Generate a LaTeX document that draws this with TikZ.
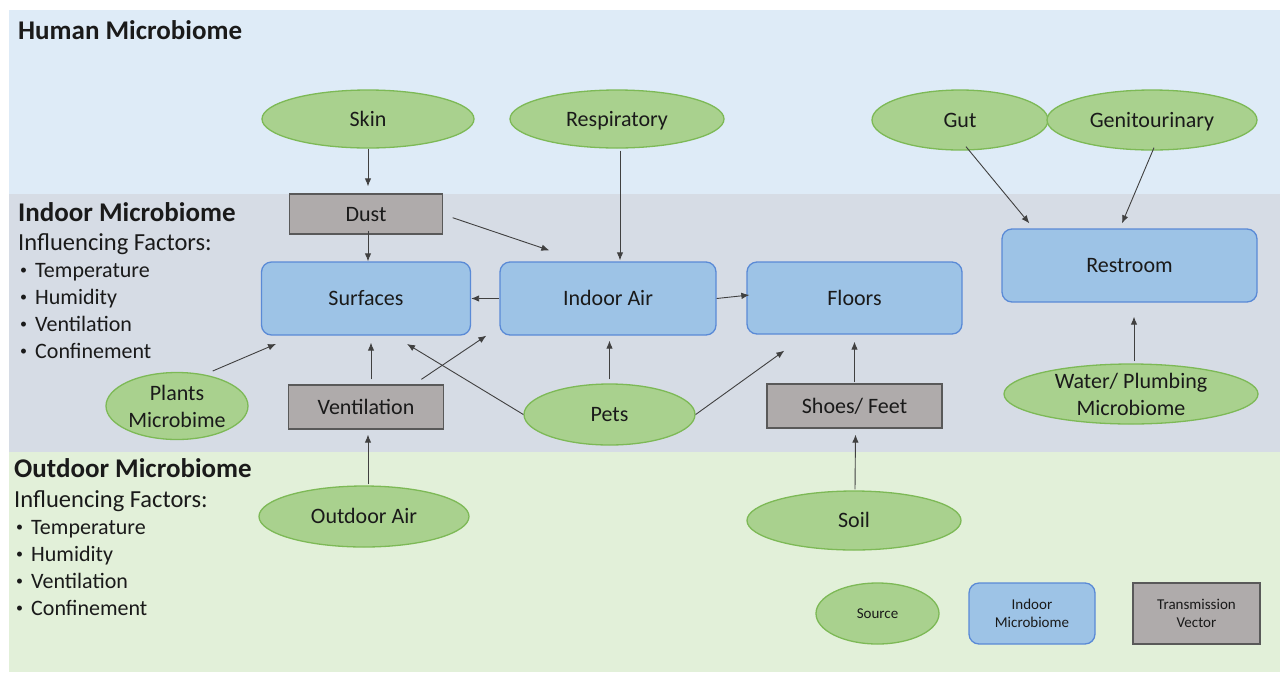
\documentclass[tikz,border=0pt]{standalone}
\usepackage{fontspec}
\setmainfont{Carlito}
\usetikzlibrary{shapes.geometric,arrows.meta,calc}
\definecolor{humanbg}{HTML}{DEEBF7}
\definecolor{indoorbg}{HTML}{D6DCE5}
\definecolor{outdoorbg}{HTML}{E2F0D9}
\definecolor{srcfill}{HTML}{A9D18E}
\definecolor{srcdraw}{HTML}{7DB956}
\definecolor{indfill}{HTML}{9DC3E6}
\definecolor{inddraw}{HTML}{5A8AD6}
\definecolor{vecfill}{HTML}{AFABAB}
\definecolor{vecdraw}{HTML}{595959}
\definecolor{arrowc}{HTML}{404040}
\definecolor{txt}{HTML}{1A1A1A}
\newcommand\fsnode{\fontsize{22}{27}\selectfont}
\newcommand\fshead{\fontsize{27}{32}\selectfont\bfseries}
\newcommand\fsinf{\fontsize{24.5}{29}\selectfont}
\newcommand\fsleg{\fontsize{15}{18}\selectfont}
\newcommand\bul{\makebox[16pt][l]{\hspace{1pt}{\fontsize{14}{14}\selectfont\raisebox{2.5pt}{•}}}}
\begin{document}
\begin{tikzpicture}[x=1pt,y=-1pt,
  src/.style={ellipse,draw=srcdraw,fill=srcfill,line width=1.3pt,inner sep=0pt,text=txt,align=center,font=\fsnode},
  ind/.style={rectangle,rounded corners=10pt,draw=inddraw,fill=indfill,line width=1.3pt,inner sep=0pt,text=txt,align=center,font=\fsnode},
  vec/.style={rectangle,draw=vecdraw,fill=vecfill,line width=1.3pt,inner sep=0pt,text=txt,align=center,font=\fsnode},
  one/.style={text height=16pt,text depth=2pt},
  arr/.style={draw=arrowc,line width=0.9pt,-{Latex[length=8pt,width=6.5pt]}},
  lbl/.style={anchor=base west,inner sep=0pt,text=txt}]
\useasboundingbox (0,0) rectangle (1283,673);
% bands
\fill[white] (0,0) rectangle (1283,673);
\fill[humanbg] (9,10) rectangle (1280,194);
\fill[indoorbg] (9,194) rectangle (1280,452);
\fill[outdoorbg] (9,452) rectangle (1280,672);
% left labels
\node[lbl,font=\fshead] (hh) at (18,39.5) {Human Microbiome};
\node[lbl,font=\fshead] (ih) at (18,221) {Indoor Microbiome};
\node[lbl,font=\fsinf] (ii) at (18,250) {Influencing Factors:};
\node[lbl,font=\fsnode] (i1) at (19,277) {\bul Temperature};
\node[lbl,font=\fsnode] (i2) at (19,304) {\bul Humidity};
\node[lbl,font=\fsnode] (i3) at (19,331) {\bul Ventilation};
\node[lbl,font=\fsnode] (i4) at (19,358) {\bul Confinement};
\node[lbl,font=\fshead] (oh) at (14,477) {Outdoor Microbiome};
\node[lbl,font=\fsinf] (oi) at (14,507) {Influencing Factors:};
\node[lbl,font=\fsnode] (o1) at (15,534) {\bul Temperature};
\node[lbl,font=\fsnode] (o2) at (15,561) {\bul Humidity};
\node[lbl,font=\fsnode] (o3) at (15,588) {\bul Ventilation};
\node[lbl,font=\fsnode] (o4) at (15,615) {\bul Confinement};
% nodes
\node[src,one,minimum width=212pt,minimum height=58pt] (skin) at (368,119) {Skin};
\node[src,one,minimum width=214pt,minimum height=58pt] (resp) at (617,119) {Respiratory};
\node[src,one,minimum width=176pt,minimum height=60pt] (gut) at (960,120) {Gut};
\node[src,one,minimum width=210pt,minimum height=60pt] (geni) at (1152,120) {Genitourinary};
\node[vec,one,minimum width=153pt,minimum height=40pt] (dust) at (366,214) {Dust};
\node[ind,one,minimum width=209pt,minimum height=73pt] (surf) at (366,298.5) {Surfaces};
\node[ind,one,minimum width=216pt,minimum height=73pt] (air) at (608,298.5) {Indoor Air};
\node[ind,one,minimum width=215pt,minimum height=72pt] (floors) at (854.5,298) {Floors};
\node[ind,one,minimum width=255pt,minimum height=73pt] (rest) at (1129.5,265.5) {Restroom};
\node[src,minimum width=142pt,minimum height=67pt] (plants) at (177,406) {Plants\\Microbime};
\node[vec,one,minimum width=155pt,minimum height=44pt] (vent) at (366,407) {Ventilation};
\node[src,one,minimum width=171pt,minimum height=61pt] (pets) at (609.5,414.5) {Pets};
\node[vec,one,minimum width=175pt,minimum height=44pt] (shoes) at (854.5,406) {Shoes/ Feet};
\node[src,minimum width=254pt,minimum height=60pt] (water) at (1131,394) {Water/ Plumbing\\Microbiome};
\node[src,one,minimum width=210pt,minimum height=61pt] (oair) at (364,516.5) {Outdoor Air};
\node[src,one,minimum width=214pt,minimum height=59pt] (soil) at (854,520.5) {Soil};
\node[src,minimum width=123pt,minimum height=61pt,font=\fsleg] (lsrc) at (877.5,613.5) {Source};
\node[ind,minimum width=126pt,minimum height=61pt,font=\fsleg] (lind) at (1032,613.5) {Indoor\\Microbiome};
\node[vec,minimum width=127pt,minimum height=61pt,font=\fsleg] (lvec) at (1196.5,613.5) {Transmission\\Vector};
% connectors
\draw[arr] (skin.south) -- ($(dust.north)+(2,-7)$);
\draw[arr] ($(resp.south)+(3,2)$) -- ($(air.north)+(12,-1)$);
\draw[arr] ($(gut.south)+(6,-4)$) -- ($(rest.north west)+(28,-5)$);
\draw[arr] ($(geni.south)+(2,-3)$) -- ($(rest.north)+(-7.5,-5)$);
\draw[arr] ($(dust.south)+(2,-4)$) -- ($(surf.north)+(2,0)$);
\draw[arr] ($(dust.east)+(9.5,3.7)$) -- ($(air.north west)+(50,-11)$);
\draw[arr] (air.west) -- (surf.east);
\draw[arr] (air.east) -- ($(floors.west)+(3,-3)$);
\draw[arr] ($(plants.center)+(35.7,-35)$) -- ($(surf.south west)+(15.2,8.3)$);
\draw[arr] ($(vent.north)+(5,-5)$) -- ($(surf.south)+(5,7)$);
\draw[arr] ($(vent.north east)+(-22.8,-5)$) -- ($(air.south west)+(-13,0)$);
\draw[arr] (pets.west) -- ($(surf.south)+(41,8.3)$);
\draw[arr] ($(pets.north)+(0,-4)$) -- ($(air.south)+(1.5,5)$);
\draw[arr] (pets.east) -- ($(floors.south west)+(38,16)$);
\draw[arr] ($(shoes.north)+(0,-1)$) -- ($(floors.south)+(0,7)$);
\draw[arr] ($(soil.north)+(1,-1)$) -- ($(shoes.south)+(1,6)$);
\draw[arr] ($(oair.north)+(4,-1)$) -- ($(vent.south)+(2,5)$);
\draw[arr] ($(water.north)+(3,-2)$) -- ($(rest.south)+(4.5,14)$);
\end{tikzpicture}
\end{document}
